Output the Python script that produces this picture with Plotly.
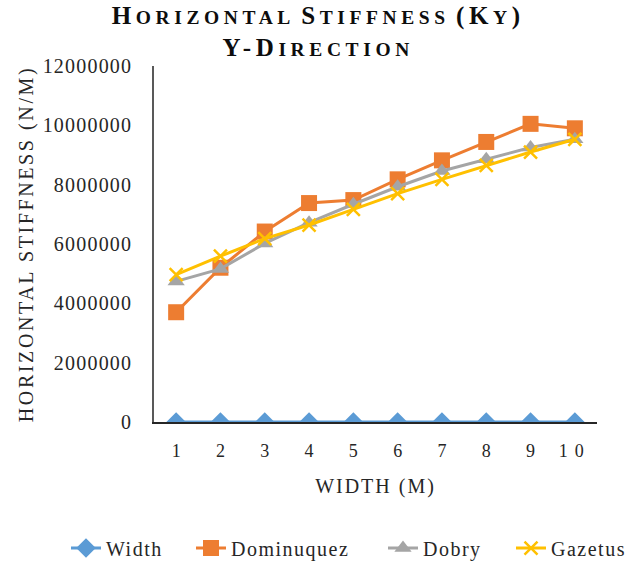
import plotly.graph_objects as go

# ---- data ----
widths = [1, 2, 3, 4, 5, 6, 7, 8, 9, 10]
categories = ["1", "2", "3", "4", "5", "6", "7", "8", "9", "10"]
dominuquez = [3700000, 5200000, 6420000, 7380000, 7480000, 8180000, 8820000, 9440000, 10050000, 9900000]
dobry = [4740000, 5160000, 6020000, 6720000, 7340000, 7930000, 8460000, 8860000, 9250000, 9530000]
gazetus = [4970000, 5590000, 6180000, 6640000, 7170000, 7700000, 8180000, 8650000, 9100000, 9530000]
y_ticks = [0, 2000000, 4000000, 6000000, 8000000, 10000000, 12000000]
series_names = ["Width", "Dominuquez", "Dobry", "Gazetus"]

FONT = "Liberation Serif, Times New Roman, serif"


def sc_word(first, rest, big=25, small=19.5, ls=4.6):
    return (f"<span style='font-size:{big}px;letter-spacing:{ls}px'>{first}</span>"
            f"<span style='font-size:{small}px;letter-spacing:{ls}px'>{rest.upper()}</span>")


def sp(text, ls):
    return f"<span style='letter-spacing:{ls}px'>{text}</span>"


title_text = (
    sc_word("H", "orizontal") + "<span style='font-size:25px'> </span>" +
    sc_word("S", "tiffness") + "<span style='font-size:25px'> </span>" +
    sc_word("(K", "y") + sc_word(")", "") +
    "<br>" +
    sc_word("Y", "") + sc_word("-", "") + sc_word("D", "irection")
)

fig = go.Figure()

fig.add_trace(go.Scatter(
    x=categories, y=widths, name=sp(series_names[0], 1.5), mode="lines+markers",
    line=dict(color="#5B9BD5", width=3),
    marker=dict(symbol="diamond", size=15, color="#5B9BD5"),
    legend="legend",
))
fig.add_trace(go.Scatter(
    x=categories, y=dominuquez, name=sp(series_names[1], 1.5), mode="lines+markers",
    line=dict(color="#ED7D31", width=3),
    marker=dict(symbol="square", size=16, color="#ED7D31"),
    legend="legend2",
))
fig.add_trace(go.Scatter(
    x=categories, y=dobry, name=sp(series_names[2], 1.5), mode="lines+markers",
    line=dict(color="#A5A5A5", width=3),
    marker=dict(symbol="triangle-up", size=15, color="#A5A5A5"),
    legend="legend3",
))
fig.add_trace(go.Scatter(
    x=categories, y=gazetus, name=sp(series_names[3], 1.5), mode="lines+markers",
    line=dict(color="#FFC000", width=3),
    marker=dict(symbol="x-thin", size=13, color="#FFC000",
                line=dict(color="#FFC000", width=2.5)),
    legend="legend4",
))

legend_text_x = [108, 233, 425, 553]
legend_common = dict(
    orientation="h", xref="container", yref="container",
    xanchor="left", y=0.03, yanchor="middle",
    font=dict(family=FONT, size=20, color="#262626"),
    bgcolor="rgba(0,0,0,0)",
)
legends = {}
for i, tx in enumerate(legend_text_x):
    key = "legend" if i == 0 else f"legend{i + 1}"
    legends[key] = dict(legend_common, x=(tx - 42) / 630)

fig.update_layout(
    width=630, height=565,
    margin=dict(l=154, r=33, t=66, b=143),
    paper_bgcolor="white", plot_bgcolor="white",
    font=dict(family=FONT, color="#262626", size=20),
    title=dict(
        text=title_text,
        x=0.505, xref="container", xanchor="center",
        y=0.958, yref="container", yanchor="top",
        font=dict(family=FONT, size=25, color="#0D0D0D", weight="bold"),
    ),
    xaxis=dict(
        type="category",
        tickmode="array", tickvals=categories,
        ticktext=[sp(c, 7 if len(c) > 1 else 0) for c in categories],
        showgrid=False, zeroline=False,
        showline=True, linecolor="#262626", linewidth=1.5,
        ticks="", ticklabelstandoff=12,
        tickfont=dict(family=FONT, size=18, color="#262626"),
        title=dict(text=sp("WIDTH (M)", 2), standoff=19,
                   font=dict(family=FONT, size=20, color="#262626")),
        range=[-0.5, 9.5],
    ),
    yaxis=dict(
        range=[0, 12000000], tickmode="array", tickvals=y_ticks,
        ticktext=[sp(str(v), 1.2) for v in y_ticks],
        showgrid=False, zeroline=False,
        showline=True, linecolor="#595959", linewidth=1.5,
        ticks="", ticklabelstandoff=16,
        tickfont=dict(family=FONT, size=20, color="#262626"),
        title=dict(text=sp("HORIZONTAL STIFFNESS (N/M)", 2.6), standoff=4,
                   font=dict(family=FONT, size=20, color="#262626")),
    ),
    showlegend=True,
    **legends,
)

fig.write_html("out.html")
